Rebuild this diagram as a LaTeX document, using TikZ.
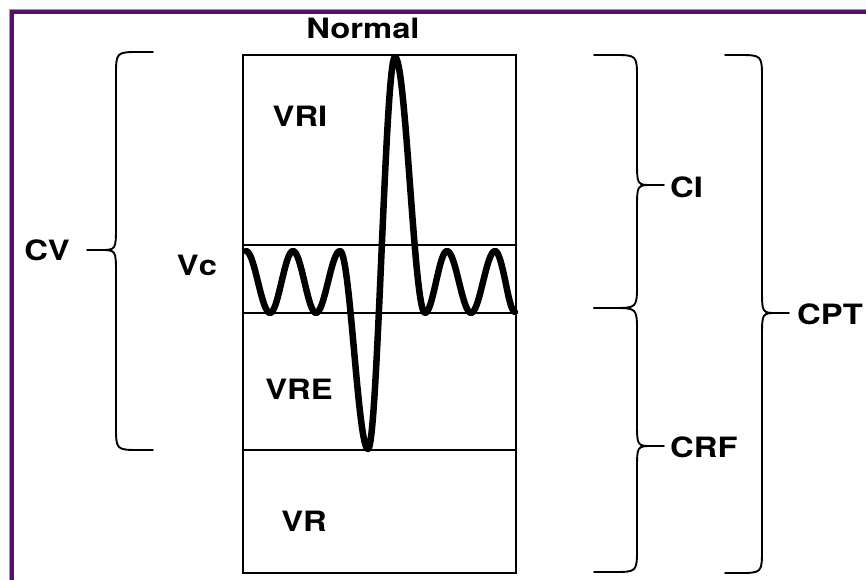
\documentclass[tikz,border=0pt]{standalone}
\usepackage{fontspec}
\setmainfont{TeX Gyre Heros}
\definecolor{framecol}{RGB}{80,18,110}
\definecolor{frameedge}{RGB}{120,160,210}
\begin{document}
\begin{tikzpicture}[x=1pt,y=-1pt,
  lbl/.style={font=\fontsize{28}{31}\selectfont\bfseries, inner sep=0pt, xscale=1.17},
  boxline/.style={line width=2pt},
  divline/.style={line width=1.6pt},
  bracestyle/.style={line width=1.9pt, line join=round, line cap=round},
  wave/.style={line width=6.5pt, line join=round, line cap=round}]
\useasboundingbox (0,0) rectangle (866,579);
\fill[white] (0,0) rectangle (866,579);
\begin{scope}
\clip (0,0) rectangle (866,579);
\draw[frameedge, line width=1pt] (9,600) -- (9,9) -- (900,9);
\draw[framecol, line width=3.8pt] (12,600) -- (12,12) -- (900,12);
\end{scope}
% box
\draw[boxline] (243,55) rectangle (516,573);
\draw[divline] (243,245) -- (516,245);
\draw[divline] (243,313) -- (516,313);
\draw[divline] (243,450) -- (516,450);
% wave
\draw[wave] (246,251) cos (258,282) sin (270,313) cos (281.5,282) sin (293,251)
  cos (304.5,282) sin (316,313) cos (328,282) sin (340,251)
  cos (354,350) sin (368,449) cos (381.5,253) sin (395,57)
  cos (410,185) sin (425,313) cos (436,282) sin (447,251)
  cos (459,282) sin (471,313) cos (483,282) sin (495,251)
  cos (505.5,282) sin (515,312);
% labels
\node[lbl] (normal) at (363,28) {Normal};
\node[lbl] (vri) at (300,116) {VRI};
\node[lbl] (vre) at (299,389) {VRE};
\node[lbl] (vr) at (304,521) {VR};
\node[lbl] (vc) at (197,265) {Vc};
\node[lbl, anchor=east] (cv) at (70,250) {CV};
\node[lbl, anchor=west] (ci) at (670,187) {CI};
\node[lbl, anchor=west] (crf) at (670,447) {CRF};
\node[lbl, anchor=west] (cpt) at (797,314) {CPT};
% braces
\draw[bracestyle] (153,52) -- (140,52) .. controls (116,52) .. (116,76) -- (116,226)
  .. controls (116,250) .. (100,250) -- (87,250)
  (100,250) .. controls (116,250) .. (116,274) -- (116,426)
  .. controls (116,450) .. (140,450) -- (153,450);
\draw[bracestyle] (594,55) -- (613,55) .. controls (637,55) .. (637,79) -- (637,161)
  .. controls (637,185) .. (652,185) -- (664,185)
  (652,185) .. controls (637,185) .. (637,209) -- (637,284)
  .. controls (637,308) .. (613,308) -- (594,308);
\draw[bracestyle] (594,308) -- (613,308) .. controls (637,308) .. (637,332) -- (637,422)
  .. controls (637,446) .. (652,446) -- (664,446)
  (652,446) .. controls (637,446) .. (637,470) -- (637,548)
  .. controls (637,572) .. (613,572) -- (594,572);
\draw[bracestyle] (725,55) -- (738,55) .. controls (762,55) .. (762,79) -- (762,289)
  .. controls (762,313) .. (777,313) -- (789,313)
  (777,313) .. controls (762,313) .. (762,337) -- (762,549)
  .. controls (762,573) .. (738,573) -- (725,573);
\end{tikzpicture}
\end{document}
